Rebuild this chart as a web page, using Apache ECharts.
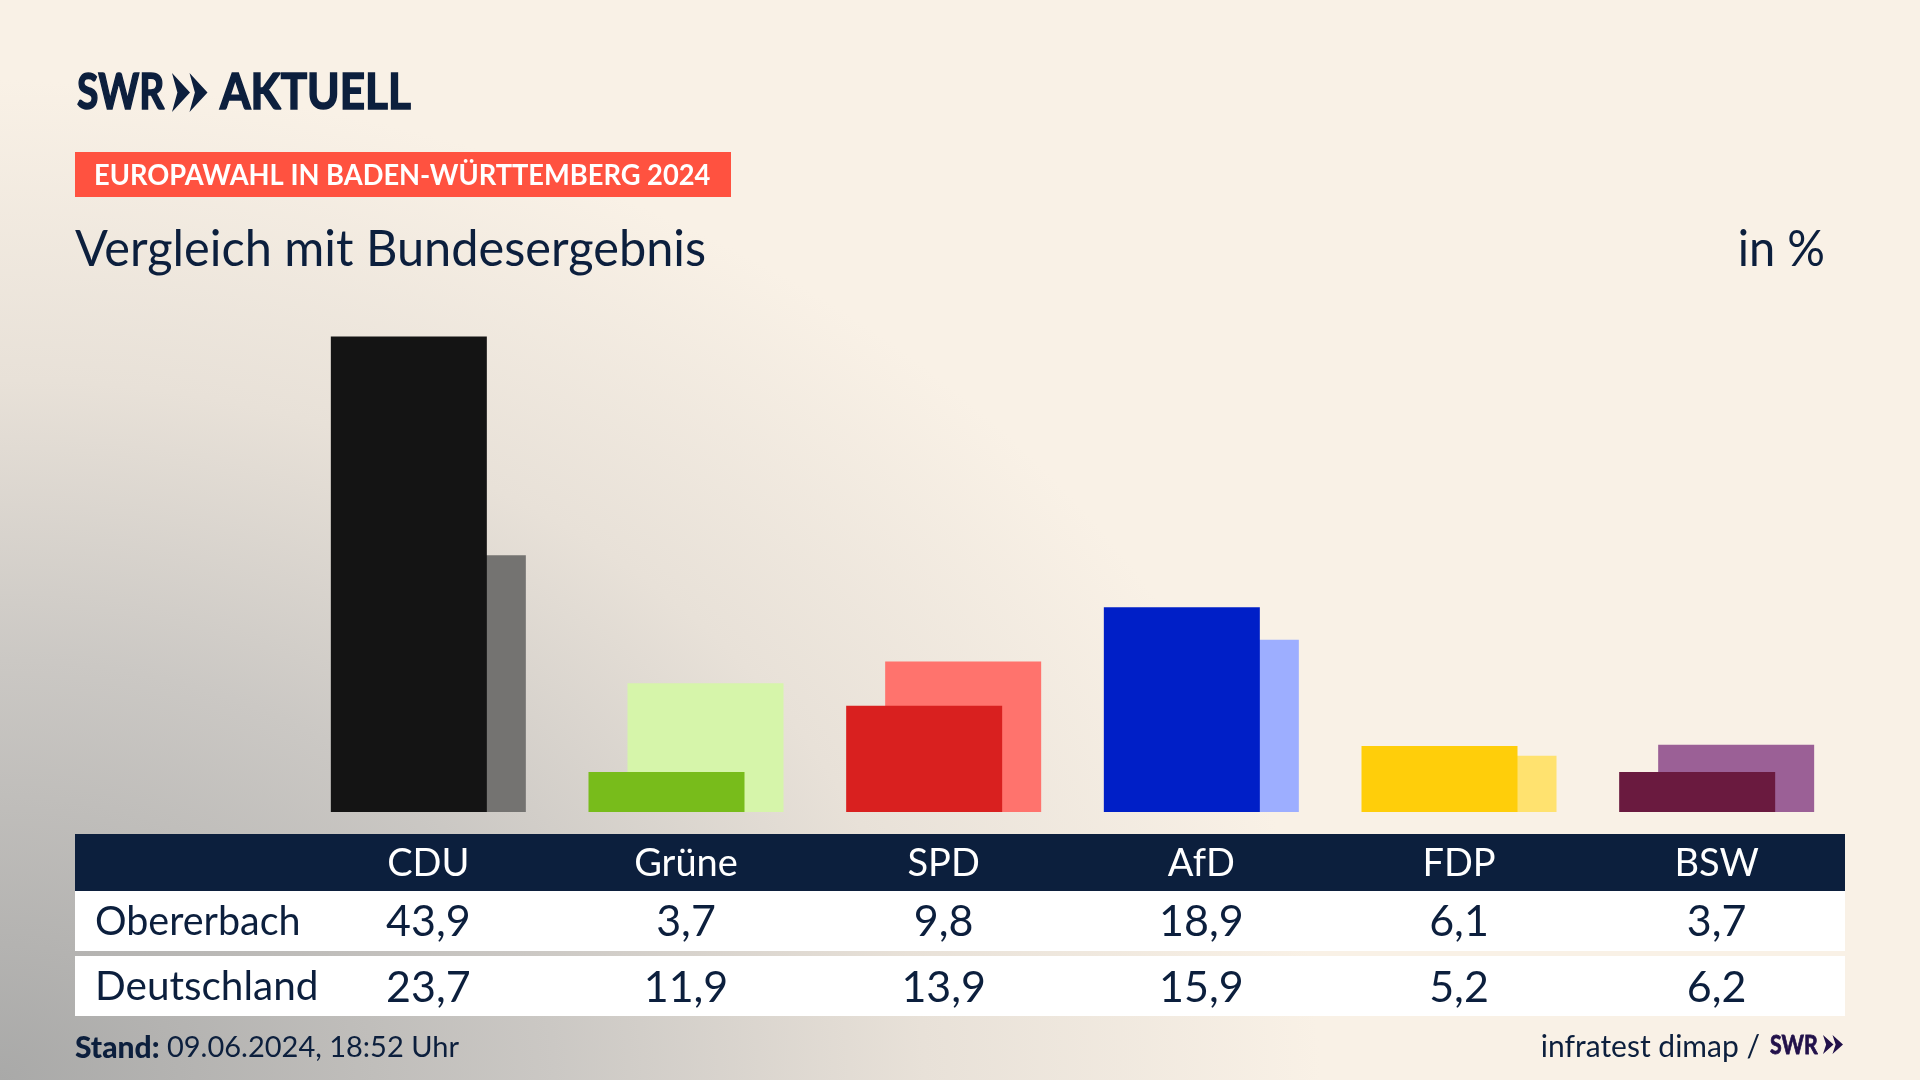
<!DOCTYPE html>
<html>
<head>
<meta charset="utf-8">
<title>Europawahl in Baden-Württemberg 2024</title>
<script src="https://cdn.jsdelivr.net/npm/echarts@6/dist/echarts.min.js"></script>
<style>
html, body { margin: 0; padding: 0; }
#chart {
    width: 1920px;
    height: 1080px;
    background-color: #f9f1e6;
    background-image: radial-gradient(ellipse 1320px 1000px at 0 100%, #a9a9a8 0%, #cbc8c4 42%, #e8e1d8 70%, #f9f1e6 100%);
}
</style>
</head>
<body>
<div id="chart"></div>
<script>
//数据
var categories = ['CDU', 'Grüne', 'SPD', 'AfD', 'FDP', 'BSW'];
var localName = 'Obererbach';
var nationalName = 'Deutschland';
var localValues = [43.9, 3.7, 9.8, 18.9, 6.1, 3.7];
var nationalValues = [23.7, 11.9, 13.9, 15.9, 5.2, 6.2];
var localColors = ['#141414', '#78bc1b', '#d9201f', '#001fc7', '#ffce0a', '#6a1a3f'];
var nationalColors = ['#747371', '#d6f5aa', '#ff736d', '#9daeff', '#ffe26f', '#9b6096'];

var navy = '#0c1f3d';
var logoPurple = '#22114a';
var fontName = 'Lato';

var chart = echarts.init(document.getElementById('chart'));

chart.setOption({
    animation: false,
    grid: { left: 299.5, right: 74.5, top: 335.5, bottom: 268 },
    xAxis: {
        type: 'category',
        data: categories,
        axisLine: { show: false },
        axisTick: { show: false },
        axisLabel: { show: false }
    },
    yAxis: { type: 'value', min: 0, max: 44, show: false },
    series: [
        {
            name: localName,
            type: 'bar',
            z: 3,
            barWidth: 156,
            barGap: '-75%',
            data: localValues,
            itemStyle: { color: function (p) { return localColors[p.dataIndex]; } }
        },
        {
            name: nationalName,
            type: 'bar',
            z: 2,
            barWidth: 156,
            data: nationalValues,
            itemStyle: { color: function (p) { return nationalColors[p.dataIndex]; } }
        }
    ]
});

function formatValue(v) {
    return v.toFixed(1).replace('.', ',');
}

//文字元素
function label(x, y, text, size, color, align, weight, scaleX, strokeWidth) {
    return {
        type: 'text',
        z: 10,
        x: x,
        y: y,
        scaleX: scaleX || 1,
        style: {
            text: text,
            fill: color,
            stroke: strokeWidth ? color : null,
            lineWidth: strokeWidth || 0,
            font: (weight || 'normal') + ' ' + size + 'px ' + fontName,
            align: align || 'left',
            verticalAlign: 'middle'
        }
    };
}

function box(x, y, w, h, color) {
    return { type: 'rect', z: 5, shape: { x: x, y: y, width: w, height: h }, style: { fill: color } };
}

//SWR的双箭头
function chevrons(x, y, w, h, step, color) {
    var list = [];
    for (var i = 0; i < 2; i++) {
        var left = x + i * step;
        list.push({
            type: 'polygon',
            z: 10,
            shape: { points: [[left, y], [left + w, y + h / 2], [left, y + h], [left + w * 0.3, y + h / 2]] },
            style: { fill: color }
        });
    }
    return list;
}

var elements = [
    box(75, 834, 1770, 57, navy),
    box(75, 891, 1770, 60, '#ffffff'),
    box(75, 956, 1770, 60, '#ffffff'),
    box(75, 152, 656, 45, '#ff5240'),
    label(77, 93, 'SWR', 50, navy, 'left', 'bold', 0.78, 1.6),
    label(220, 93, 'AKTUELL', 50, navy, 'left', 'bold', 0.88, 1.6),
    label(94, 176, 'EUROPAWAHL IN BADEN-WÜRTTEMBERG 2024', 29, '#ffffff', 'left', 'bold', 0.94),
    label(75, 250, 'Vergleich mit Bundesergebnis', 50, navy, 'left', 'normal', 0.974),
    label(1825, 250, 'in %', 50, navy, 'right', 'normal', 0.94),
    label(95, 922, localName, 40.5, navy, 'left', 'normal', 0.975),
    label(95, 987, nationalName, 40.5, navy),
    {
        type: 'text',
        z: 10,
        x: 75,
        y: 1048,
        style: {
            text: '{b|Stand:}{n| 09.06.2024, 18:52 Uhr}',
            verticalAlign: 'middle',
            rich: {
                b: { font: '900 30px ' + fontName, fill: navy },
                n: { font: 'normal 29px ' + fontName, fill: navy }
            }
        }
    },
    label(1760, 1047, 'infratest dimap /', 30, navy, 'right'),
    label(1770, 1046, 'SWR', 26, logoPurple, 'left', 'bold', 0.82, 0.8)
];
elements = elements.concat(chevrons(172, 73, 18, 39, 17.5, navy));
elements = elements.concat(chevrons(1823, 1035, 10.5, 19, 9.5, logoPurple));

//表格内容，位置由类目轴换算
for (var i = 0; i < categories.length; i++) {
    var cx = chart.convertToPixel({ xAxisIndex: 0 }, categories[i]);
    elements.push(label(cx, 864, categories[i], 38, '#ffffff', 'center'));
    elements.push(label(cx, 922, formatValue(localValues[i]), 43, navy, 'center'));
    elements.push(label(cx, 988, formatValue(nationalValues[i]), 43, navy, 'center'));
}

chart.setOption({ graphic: { elements: elements } });
</script>
</body>
</html>
